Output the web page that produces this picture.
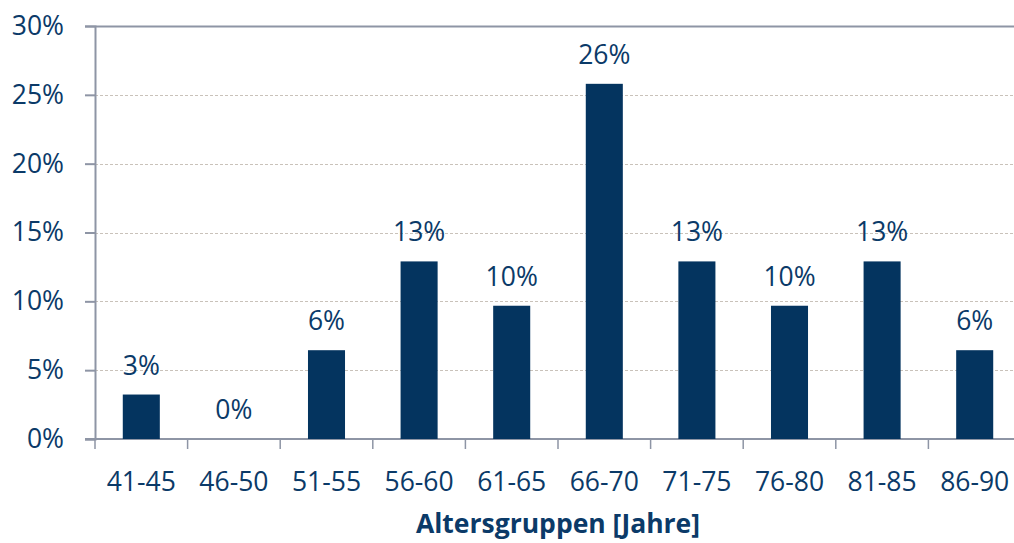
<!DOCTYPE html>
<html>
<head>
<meta charset="utf-8">
<script src="https://cdn.jsdelivr.net/npm/d3@7"></script>
<style>
  body { margin: 0; background: #fff; }
  svg text { font-family: "Open Sans", "Noto Sans", sans-serif; }
</style>
</head>
<body>
<div id="chart"></div>
<script>
// data
const groups = ["41-45", "46-50", "51-55", "56-60", "61-65", "66-70", "71-75", "76-80", "81-85", "86-90"];
const shares = [0.0323, 0, 0.0645, 0.129, 0.0968, 0.258, 0.129, 0.0968, 0.129, 0.0645];
const yTicks = [0, 0.05, 0.1, 0.15, 0.2, 0.25, 0.3];
const xTitle = "Altersgruppen [Jahre]";

const width = 1014,
  height = 543;
const margin = { top: 26, right: -7, bottom: 104, left: 95 };
const fontSize = 26.5;

const textColor = "#0b3a68",
  barColor = "#04345f",
  axisColor = "#8e95a5",
  gridColor = "#c9c2ba";

const svg = d3
  .select("#chart")
  .append("svg")
  .attr("width", width)
  .attr("height", height);

const x = d3
  .scaleBand()
  .domain(groups)
  .range([margin.left, width - margin.right]);

const y = d3
  .scaleLinear()
  .domain([0, 0.3])
  .range([height - margin.bottom, margin.top]);

// gridlines (dotted), top one solid
svg
  .append("g")
  .selectAll("line")
  .data(yTicks.filter((d) => d > 0))
  .join("line")
  .attr("x1", margin.left)
  .attr("x2", width)
  .attr("y1", (d) => Math.round(y(d)) + 0.5)
  .attr("y2", (d) => Math.round(y(d)) + 0.5)
  .attr("stroke", (d) => (d === 0.3 ? axisColor : gridColor))
  .attr("stroke-width", (d) => (d === 0.3 ? 2 : 1))
  .attr("stroke-dasharray", (d) => (d === 0.3 ? null : "3,2"));

// y axis
const yAxis = svg
  .append("g")
  .attr("transform", `translate(${margin.left},0)`)
  .call(
    d3
      .axisLeft(y)
      .tickValues(yTicks)
      .tickFormat(d3.format(".0%"))
      .tickSize(10)
      .tickPadding(21)
  );
yAxis.select(".domain").attr("stroke", axisColor).attr("stroke-width", 2);
yAxis.selectAll(".tick line").attr("stroke", axisColor).attr("stroke-width", 2);
yAxis
  .selectAll(".tick text")
  .attr("fill", textColor)
  .attr("font-size", fontSize);

// x axis with ticks at category boundaries
const xAxisG = svg
  .append("g")
  .attr("transform", `translate(0,${y(0)})`);
xAxisG
  .append("line")
  .attr("x1", margin.left - 10)
  .attr("x2", width)
  .attr("stroke", axisColor)
  .attr("stroke-width", 2);
xAxisG
  .selectAll(".xtick")
  .data(groups)
  .join("line")
  .attr("class", "xtick")
  .attr("x1", (d) => x(d))
  .attr("x2", (d) => x(d))
  .attr("y1", 0)
  .attr("y2", 10)
  .attr("stroke", axisColor)
  .attr("stroke-width", 1.5);
xAxisG
  .selectAll(".xlabel")
  .data(groups)
  .join("text")
  .attr("class", "xlabel")
  .attr("x", (d) => x(d) + x.bandwidth() / 2)
  .attr("y", 52)
  .attr("text-anchor", "middle")
  .attr("fill", textColor)
  .attr("font-size", fontSize)
  .text((d) => d);

// bars
const barW = x.bandwidth() * 0.4;
svg
  .append("g")
  .selectAll("rect")
  .data(groups)
  .join("rect")
  .attr("x", (d) => x(d) + (x.bandwidth() - barW) / 2)
  .attr("y", (d, i) => y(shares[i]))
  .attr("width", barW)
  .attr("height", (d, i) => y(0) - y(shares[i]))
  .attr("fill", barColor);

// value labels
svg
  .append("g")
  .selectAll("text")
  .data(groups)
  .join("text")
  .attr("x", (d) => x(d) + x.bandwidth() / 2)
  .attr("y", (d, i) => y(shares[i]) - 20)
  .attr("text-anchor", "middle")
  .attr("fill", textColor)
  .attr("font-size", fontSize)
  .text((d, i) => d3.format(".0%")(shares[i]));

// axis title
svg
  .append("text")
  .attr("x", 558)
  .attr("y", 533)
  .attr("text-anchor", "middle")
  .attr("fill", textColor)
  .attr("font-size", fontSize)
  .attr("font-weight", "bold")
  .text(xTitle);
</script>
</body>
</html>
